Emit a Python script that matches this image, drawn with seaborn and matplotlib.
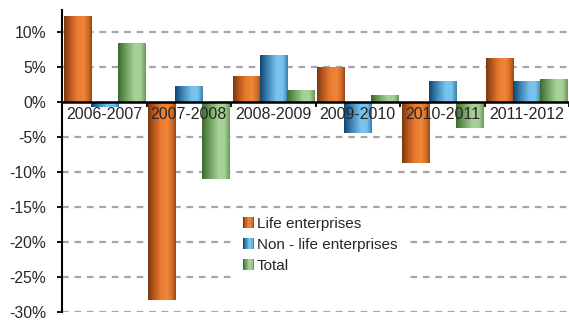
import numpy as np
import pandas as pd
import matplotlib
matplotlib.use("Agg")
import matplotlib.pyplot as plt
import seaborn as sns
from matplotlib.colors import to_rgb
from matplotlib.patches import Rectangle
from matplotlib.legend_handler import HandlerBase
from matplotlib.ticker import FuncFormatter, FixedLocator

# Annual growth rates (%) by period
periods = ["2006-2007", "2007-2008", "2008-2009", "2009-2010", "2010-2011", "2011-2012"]
life = [12.3, -28.4, 3.6, 4.9, -8.8, 6.2]
non_life = [-0.7, 2.2, 6.7, -4.5, 2.9, 2.9]
total = [8.4, -11.0, 1.65, 0.9, -3.7, 3.2]
series_names = ["Life enterprises", "Non - life enterprises", "Total"]
y_ticks = [10, 5, 0, -5, -10, -15, -20, -25, -30]

df = pd.DataFrame({
    "period": periods * 3,
    "series": [series_names[0]] * 6 + [series_names[1]] * 6 + [series_names[2]] * 6,
    "value": life + non_life + total,
})

# cylinder-like horizontal shading for each series
gradients = {
    series_names[0]: [(0.0, "#7a3810"), (0.2, "#b4561c"), (0.45, "#e77a2f"),
                      (0.7, "#f0863a"), (0.88, "#d06a25"), (1.0, "#99481a")],
    series_names[1]: [(0.0, "#15456a"), (0.25, "#3a7fb2"), (0.6, "#78c4ee"),
                      (0.82, "#78c2ec"), (1.0, "#3d80b0")],
    series_names[2]: [(0.0, "#3d6b30"), (0.25, "#6a9a5a"), (0.6, "#a9d29a"),
                      (0.82, "#a6cf96"), (1.0, "#6a985a")],
}
mid_colors = {k: v[len(v) // 2][1] for k, v in gradients.items()}


def gradient_row(stops, n=64):
    pos = np.array([s[0] for s in stops])
    cols = np.array([to_rgb(s[1]) for s in stops])
    xs = np.linspace(0, 1, n)
    return np.stack([np.interp(xs, pos, cols[:, i]) for i in range(3)], axis=-1)[None, :, :]


sns.set_style("white")
plt.rcParams["font.family"] = ["Liberation Sans", "DejaVu Sans"]

fig = plt.figure(figsize=(5.69, 3.20), dpi=100)
ax = fig.add_axes([0.109, 0.026, 0.891, 0.943])

sns.barplot(data=df, x="period", y="value", hue="series", order=periods,
            hue_order=series_names, palette=mid_colors, saturation=1,
            width=0.96, ax=ax, legend=False, linewidth=0, errorbar=None)

# shade the bars
for name, container in zip(series_names, ax.containers):
    img = gradient_row(gradients[name])
    for bar in container:
        x0, y0 = bar.get_x(), bar.get_y()
        w, h = bar.get_width(), bar.get_height()
        y_lo, y_hi = min(y0, y0 + h), max(y0, y0 + h)
        im = ax.imshow(img, extent=[x0, x0 + w, y_lo, y_hi], aspect="auto",
                       interpolation="bilinear", zorder=1.1)
        im.set_clip_path(bar)

ax.set_xlim(-0.5, 5.5)
ax.set_ylim(-30, 13.1)
ax.set_aspect("auto")

# dashed gridlines behind bars
for yv in y_ticks:
    if yv != 0:
        ax.axhline(yv, color="#a6a6a6", linewidth=1.6, linestyle=(0, (3.0, 2.6)),
                   zorder=0.5)

# axes styling
ax.spines["top"].set_visible(False)
ax.spines["right"].set_visible(False)
ax.spines["bottom"].set_position(("data", 0))
ax.spines["bottom"].set_linewidth(1.8)
ax.spines["left"].set_linewidth(1.5)
ax.spines["bottom"].set_color("black")
ax.spines["left"].set_color("black")
ax.spines["bottom"].set_zorder(3)

ax.set_yticks(y_ticks)
ax.yaxis.set_major_formatter(FuncFormatter(lambda v, p: f"{v:.0f}%"))
ax.tick_params(axis="y", which="major", direction="out", length=3.5, width=1.3,
               color="black", labelsize=11.3, pad=8, left=True)

ax.xaxis.set_minor_locator(FixedLocator(np.arange(-0.5, 6.0, 1.0)))
ax.tick_params(axis="x", which="minor", direction="out", length=3.5, width=1.3,
               color="black", bottom=True)
ax.tick_params(axis="x", which="major", length=0, labelsize=11.5, pad=4)
ax.set_xlabel("")
ax.set_ylabel("")
ax.set_axisbelow(False)
for lab in ax.get_xticklabels():
    lab.set_zorder(4)


class GradientHandler(HandlerBase):
    def __init__(self, stops):
        super().__init__()
        self.stops = stops

    def create_artists(self, legend, orig_handle, xdescent, ydescent, width,
                       height, fontsize, trans):
        n = 8
        row = gradient_row(self.stops, n)[0]
        arts = []
        for i in range(n):
            r = Rectangle((-xdescent + i * width / n, -ydescent), width / n + 0.1,
                          height, facecolor=row[i], edgecolor="none",
                          transform=trans)
            arts.append(r)
        return arts


handles = [Rectangle((0, 0), 1, 1) for _ in series_names]
leg = ax.legend(handles, series_names, loc="center",
                bbox_to_anchor=(0.509, 0.222), fontsize=11,
                handler_map={h: GradientHandler(gradients[n])
                             for h, n in zip(handles, series_names)},
                handlelength=0.75, handleheight=0.75, handletextpad=0.2,
                labelspacing=0.45, frameon=True, borderpad=0.5,
                borderaxespad=0, fancybox=False)
leg.get_frame().set_facecolor("white")
leg.get_frame().set_edgecolor("none")
leg.get_frame().set_alpha(1)
leg.set_zorder(5)

fig.savefig("out.png", dpi=100)
